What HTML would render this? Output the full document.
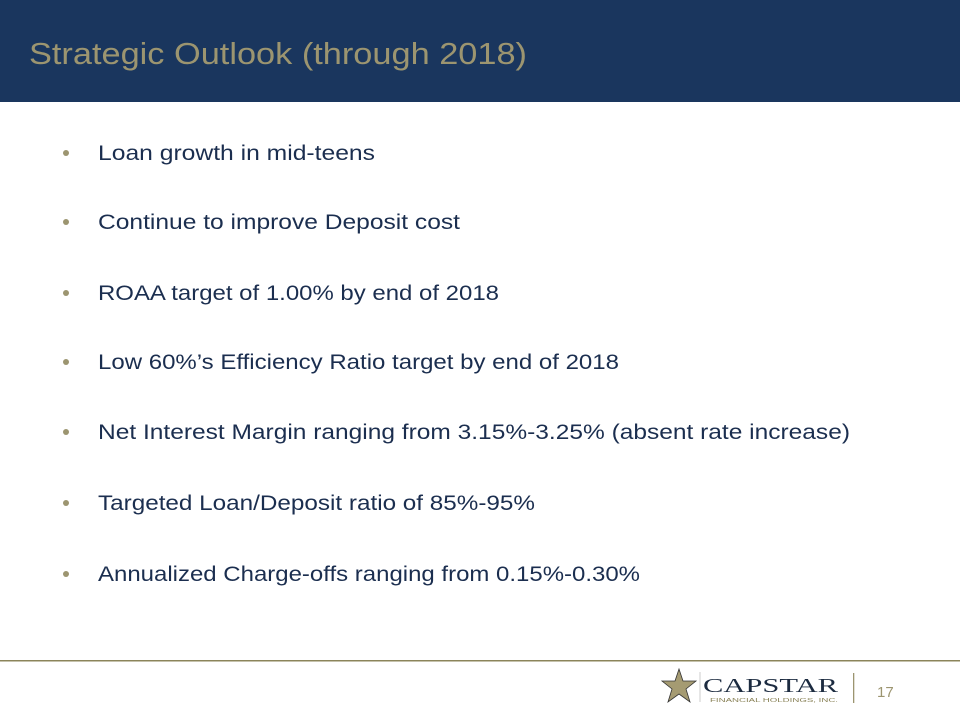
<!DOCTYPE html>
<html><head><meta charset="utf-8"><style>
html,body{margin:0;padding:0;background:#fff;}
svg{display:block;}
</style></head><body>
<svg width="960" height="720" viewBox="0 0 960 720" xmlns="http://www.w3.org/2000/svg" font-family="'Liberation Sans', sans-serif">
<rect x="0" y="0" width="960" height="102" fill="#1a365e"/>
<text x="29" y="64" font-size="31" fill="#9c9570" textLength="498" lengthAdjust="spacingAndGlyphs">Strategic Outlook (through 2018)</text>
<g fill="#9c9570">
<circle cx="66" cy="153" r="3"/><circle cx="66" cy="222" r="3"/><circle cx="66" cy="293" r="3"/><circle cx="66" cy="362" r="3"/><circle cx="66" cy="432" r="3"/><circle cx="66" cy="503" r="3"/><circle cx="66" cy="574" r="3"/>
</g>
<g font-size="21" fill="#1b2e4f">
<text x="98" y="160" textLength="277" lengthAdjust="spacingAndGlyphs">Loan growth in mid-teens</text>
<text x="98" y="229" textLength="362" lengthAdjust="spacingAndGlyphs">Continue to improve Deposit cost</text>
<text x="98" y="300" textLength="401" lengthAdjust="spacingAndGlyphs">ROAA target of 1.00% by end of 2018</text>
<text x="98" y="369" textLength="521" lengthAdjust="spacingAndGlyphs">Low 60%’s Efficiency Ratio target by end of 2018</text>
<text x="98" y="439" textLength="752" lengthAdjust="spacingAndGlyphs">Net Interest Margin ranging from 3.15%-3.25%  (absent rate increase)</text>
<text x="98" y="510" textLength="437" lengthAdjust="spacingAndGlyphs">Targeted Loan/Deposit ratio of 85%-95%</text>
<text x="98" y="581" textLength="542" lengthAdjust="spacingAndGlyphs">Annualized Charge-offs ranging from 0.15%-0.30%</text>
</g>
<rect x="0" y="660" width="960" height="1.5" fill="#8b845a"/>
<g>
<polygon points="679,669 683,681 696,681 686,689 690,702 679,694 668,702 672,689 662,681 675,681" fill="#a59b72" stroke="#333" stroke-width="0.8"/>
<line x1="700" y1="672" x2="700" y2="702" stroke="#ccc" stroke-width="1"/>
<text x="703" y="692" font-family="'Liberation Serif', serif" font-size="20" fill="#1c2b40" textLength="135" lengthAdjust="spacingAndGlyphs">CAPSTAR</text>
<text x="710" y="702" font-size="5" fill="#8b845a" textLength="128" lengthAdjust="spacingAndGlyphs">FINANCIAL HOLDINGS, INC.</text>
</g>
<rect x="853" y="673" width="1.3" height="30" fill="#9c9570"/>
<text x="877" y="697" font-size="15" fill="#9c9570">17</text>
</svg>
</body></html>
